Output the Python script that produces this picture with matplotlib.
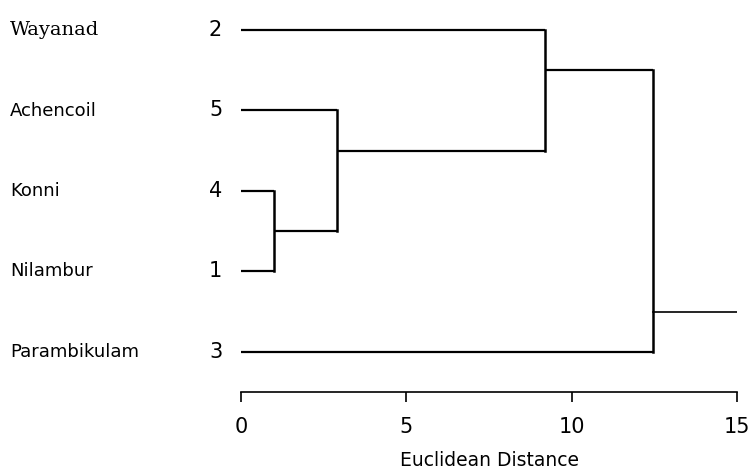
import matplotlib
matplotlib.use("Agg")
import matplotlib.pyplot as plt

# Leaves in drawing order (top to bottom)
leaf_ids = ['2', '5', '4', '1', '3']
leaf_names = ['Wayanad', 'Achencoil', 'Konni', 'Nilambur', 'Parambikulam']

# Merges: (child a, child b), leaves are 0..4, new clusters 5..8
merges = [(2, 3), (1, 5), (0, 6), (7, 4)]
merge_heights = [1.0, 2.9, 9.2, 12.45]
node_rows = [2.5, 1.5, 0.5, 3.5]
root_end = 15

xticks = [0, 5, 10, 15]

W, H = 754, 472
fig = plt.figure(figsize=(W / 100, H / 100), dpi=100)
row_px = 80.5
top_row = 4.5 - 392 / row_px
ax = fig.add_axes([241 / W, (H - 392) / H, (737 - 241) / W, 392 / H])
ax.set_xlim(0, 15)
ax.set_ylim(4.5, top_row)

# position of every node: (x, y)
pos = {i: (0.0, float(i)) for i in range(len(leaf_ids))}
for k, (a, b) in enumerate(merges):
    h = merge_heights[k]
    for c in (a, b):
        cx, cy = pos[c]
        ax.plot([cx, h], [cy, cy], color='black', lw=1.6, solid_capstyle='butt')
    ax.plot([h, h], [pos[a][1], pos[b][1]], color='black', lw=1.8)
    pos[len(leaf_ids) + k] = (h, node_rows[k])

rx, ry = pos[len(leaf_ids) + len(merges) - 1]
ax.plot([rx, root_end], [ry, ry], color='black', lw=1.2)

# leaf labels
for i, (lid, name) in enumerate(zip(leaf_ids, leaf_names)):
    ax.text(-0.57, i, lid, ha='right', va='center', fontsize=15,
            family='DejaVu Sans')
    y_fig = 1 - (30 + row_px * i) / H
    if name == 'Wayanad':
        fig.text(10 / W, y_fig, name, ha='left', va='center', fontsize=14,
                 family='DejaVu Serif')
    else:
        fig.text(10 / W, y_fig, name, ha='left', va='center', fontsize=13,
                 family='DejaVu Sans')

for s in ['top', 'right', 'left']:
    ax.spines[s].set_visible(False)
ax.spines['bottom'].set_linewidth(1.2)
ax.set_yticks([])
ax.set_xticks(xticks)
ax.set_xticklabels([str(t) for t in xticks], fontsize=15, family='DejaVu Sans')
ax.tick_params(axis='x', direction='out', length=7, width=1.2, pad=11)
ax.set_xlabel('Euclidean Distance', fontsize=13.5, family='DejaVu Sans', labelpad=10)

fig.savefig('out.png', dpi=100, facecolor='white')
